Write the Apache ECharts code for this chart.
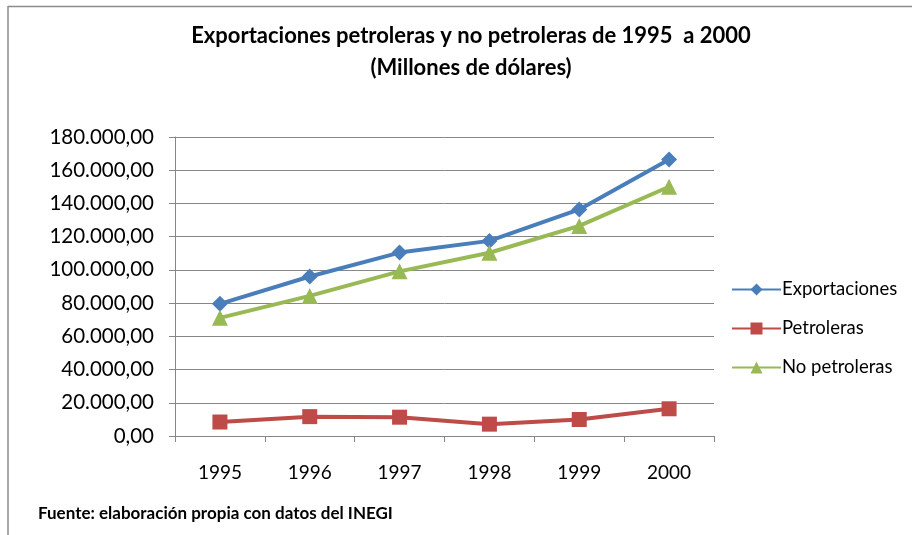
<!DOCTYPE html>
<html><head><meta charset="utf-8">
<script src="https://cdn.jsdelivr.net/npm/echarts@6/dist/echarts.min.js"></script>
<style>html,body{margin:0;padding:0;background:#fff}#c{width:912px;height:535px}</style>
</head><body><div id="c"></div>
<script>
const years = ['1995','1996','1997','1998','1999','2000'];
const exportaciones = [79542, 95999, 110431, 117460, 136391, 166455];
const petroleras = [8423, 11654, 11323, 7134, 9928, 16383];
const noPetroleras = [71119, 84345, 99108, 110326, 126463, 150072];
const seriesNames = ['Exportaciones','Petroleras','No petroleras'];

function fmt(v){
  const s = Math.round(v).toString().replace(/\B(?=(\d{3})+(?!\d))/g,'.');
  return s + ',00';
}
const F = 'Lato, "Liberation Sans", sans-serif';
const chart = echarts.init(document.getElementById('c'));
chart.setOption({
  animation:false,
  backgroundColor:'#fff',
  title:{
    text:'Exportaciones petroleras y no petroleras de 1995  a 2000\n(Millones de dólares)',
    left:466, top:15, textAlign:'center',
    textStyle:{fontFamily:F,fontSize:22,fontWeight:'bold',color:'#000',lineHeight:32}
  },
  legend:{
    orient:'vertical', left:726, top:275, itemGap:20, itemWidth:49, itemHeight:15,
    textStyle:{fontFamily:F,fontSize:18.5,color:'#000',padding:[0,0,0,-4]},
    data:seriesNames
  },
  grid:{left:175, right:198, top:137, bottom:99},
  xAxis:{
    type:'category', data:years, boundaryGap:true,
    axisLine:{lineStyle:{color:'#868686',width:1}},
    axisTick:{show:true,length:6,inside:false,lineStyle:{color:'#868686'}},
    axisLabel:{fontFamily:F,fontSize:19,color:'#000',margin:27}
  },
  yAxis:{
    type:'value', min:0, max:180000, interval:20000,
    axisLine:{show:true,lineStyle:{color:'#868686'}},
    axisTick:{show:true,length:6,lineStyle:{color:'#868686'}},
    splitLine:{lineStyle:{color:'#868686',width:1}},
    axisLabel:{fontFamily:F,fontSize:20.5,color:'#000',margin:21,formatter:fmt}
  },
  series:[
    {name:seriesNames[0],type:'line',data:exportaciones,symbol:'diamond',symbolSize:16,
     lineStyle:{color:'#4A7EBB',width:4},itemStyle:{color:'#4A7EBB'}},
    {name:seriesNames[1],type:'line',data:petroleras,symbol:'rect',symbolSize:15,
     lineStyle:{color:'#BE4B48',width:4},itemStyle:{color:'#BE4B48'}},
    {name:seriesNames[2],type:'line',data:noPetroleras,symbol:'triangle',symbolSize:16,
     lineStyle:{color:'#98B954',width:4},itemStyle:{color:'#98B954'}}
  ],
  graphic:[
    {type:'line',shape:{x1:8,y1:6.5,x2:912,y2:6.5},style:{stroke:'#8c8c8c',lineWidth:1.5}},
    {type:'line',shape:{x1:8,y1:6,x2:8,y2:535},style:{stroke:'#8c8c8c',lineWidth:1.5}},
    {type:'text',left:38,top:505,style:{text:'Fuente: elaboración propia con datos del INEGI',
      font:'bold 17px '+F,fill:'#000'}}
  ]
});
</script></body></html>
